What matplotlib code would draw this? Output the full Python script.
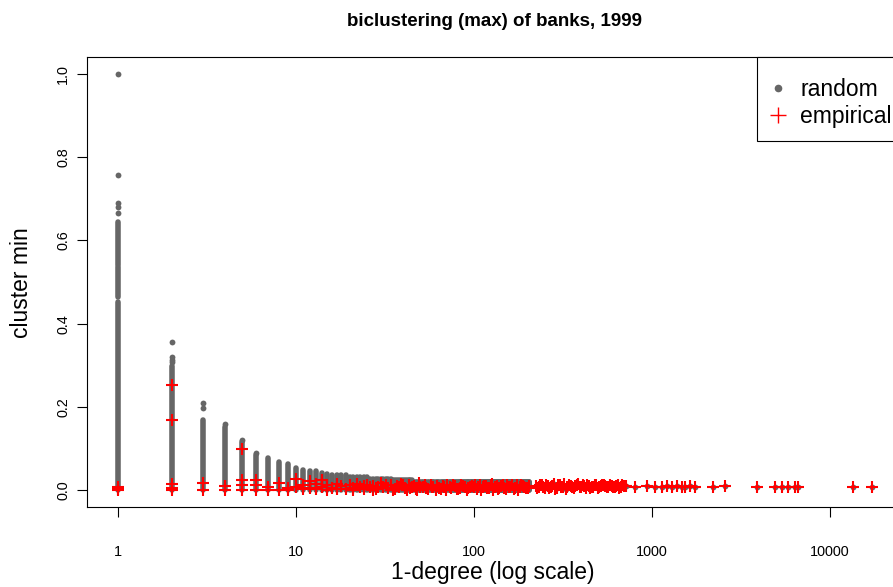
import numpy as np
import matplotlib.pyplot as plt
from matplotlib.lines import Line2D
from matplotlib.patches import Rectangle

plt.rcParams['font.family'] = ['Liberation Sans', 'DejaVu Sans']

# random model: dense columns of points (degree, lowest, highest value)
col_deg = [1, 1, 1, 2, 3, 4, 5, 6, 7, 8, 9, 10, 11, 12, 13, 14, 15, 16, 17, 18, 19]
col_lo = [0.0, 0.465, 0.542, 0.0, 0.0, 0.0, 0.0, 0.0, 0.0, 0.0, 0.0,
          0.0, 0.0, 0.0, 0.0, 0.0, 0.0, 0.0, 0.0, 0.0, 0.0]
col_hi = [0.453, 0.535, 0.643, 0.298, 0.170, 0.151, 0.115, 0.085, 0.077, 0.069, 0.063,
          0.054, 0.049, 0.047, 0.046, 0.042, 0.039, 0.037, 0.037, 0.037, 0.036]

# random model, higher degrees: runs of degrees that top out at the same value
run_start = [20, 26, 35, 46, 71]
run_end = [25, 34, 45, 70, 205]
run_top = [0.032, 0.028, 0.024, 0.021, 0.019]

# random model: isolated points above the columns
pt_deg = [1, 1, 1, 1, 1, 2, 2, 2, 2, 3, 3, 4, 5, 6]
pt_val = [1.0, 0.756, 0.69, 0.68, 0.665, 0.356, 0.319, 0.312, 0.307, 0.209, 0.197, 0.160, 0.120, 0.089]

# empirical values
emp_deg = [1, 1, 1,
           2, 2, 2, 2, 2,
           3, 3, 4, 4,
           5, 5, 5, 5,
           6, 6, 6,
           7, 7, 8, 8, 9, 9, 10, 10, 11, 11, 12, 12, 13, 13, 14, 14, 15, 15,
           16, 17, 17, 18, 19,
           20, 21, 22, 23, 24, 25, 26, 27, 28, 30, 31, 33, 34, 36, 37, 39, 41, 43,
           45, 47, 49, 52, 54, 57, 59, 62, 65, 68, 71, 74, 78, 81, 85, 89, 93, 97,
           100, 104, 108, 112, 117, 121, 126, 131, 137, 142, 148, 154, 160, 167,
           174, 181, 188, 196, 204,
           222, 231, 240, 250, 260, 270, 281, 292, 304, 316, 329, 342, 356, 370,
           385, 400, 416, 433, 450, 468, 487, 506, 527, 548, 570, 593, 617, 641,
           667, 693,
           714, 802, 937, 1040, 1134, 1209, 1290, 1376, 1468, 1532, 1635, 1745,
           2201, 2571, 3875, 4909, 5355, 5833, 6361, 6611, 13516, 17155]
emp_val = [0.0, 0.004, 0.008,
           0.254, 0.170, 0.016, 0.006, 0.0,
           0.018, 0.002, 0.010, 0.002,
           0.100, 0.026, 0.013, 0.002,
           0.026, 0.013, 0.002,
           0.008, 0.001, 0.018, 0.002, 0.006, 0.001, 0.027, 0.008, 0.013, 0.004,
           0.022, 0.006, 0.015, 0.003, 0.026, 0.009, 0.012, 0.002,
           0.006, 0.016, 0.003, 0.010, 0.004,
           0.012, 0.005, 0.016, 0.008, 0.003, 0.014, 0.007, 0.011, 0.004, 0.018,
           0.009, 0.006, 0.013, 0.003, 0.010, 0.015, 0.006, 0.012, 0.008, 0.004,
           0.017, 0.009, 0.005, 0.013, 0.007, 0.011, 0.004, 0.009, 0.014, 0.006,
           0.010, 0.003, 0.012, 0.008, 0.005, 0.011,
           0.009, 0.004, 0.013, 0.007, 0.010, 0.005, 0.015, 0.008, 0.003, 0.011,
           0.006, 0.012, 0.009, 0.004, 0.014, 0.007, 0.010, 0.005, 0.011,
           0.010, 0.007, 0.013, 0.005, 0.011, 0.008, 0.015, 0.006, 0.012, 0.009,
           0.004, 0.013, 0.008, 0.011, 0.016, 0.007, 0.010, 0.013, 0.006, 0.009,
           0.012, 0.008, 0.014, 0.010, 0.007, 0.011, 0.009, 0.013, 0.008, 0.010,
           0.011, 0.009, 0.010, 0.008, 0.009, 0.010, 0.009, 0.010, 0.009, 0.009,
           0.010, 0.009, 0.009, 0.010, 0.009, 0.009, 0.009, 0.009, 0.009, 0.009,
           0.009, 0.009]

# more empirical values inside the dense band (20 .. 700)
band_deg = [21, 24, 27, 29, 32, 35, 38, 40, 42, 44, 46, 48, 50, 53, 55, 58, 61, 64,
            67, 70, 73, 76, 80, 83, 87, 91, 95,
            102, 106, 110, 114, 119, 124, 128, 134, 139, 145, 151, 157, 163, 170,
            177, 184, 192, 200,
            226, 235, 245, 255, 265, 276, 287, 298, 310, 322, 335, 349, 363, 377,
            392, 408, 424, 441, 459, 477, 496, 516, 537, 559, 581, 605, 629, 654, 680]
band_val = [0.002, 0.010, 0.001, 0.007, 0.012, 0.002, 0.008, 0.013, 0.001, 0.006,
            0.010, 0.002, 0.007, 0.012, 0.003, 0.009, 0.001, 0.006, 0.011, 0.002,
            0.008, 0.013, 0.003, 0.006, 0.010, 0.002, 0.007,
            0.012, 0.007, 0.002, 0.011, 0.006, 0.013, 0.002, 0.010, 0.006, 0.014,
            0.003, 0.008, 0.012, 0.006, 0.002, 0.012, 0.008, 0.006,
            0.006, 0.012, 0.009, 0.014, 0.006, 0.011, 0.004, 0.013, 0.008, 0.015,
            0.007, 0.010, 0.005, 0.012, 0.009, 0.014, 0.006, 0.011, 0.008, 0.013,
            0.006, 0.010, 0.012, 0.007, 0.014, 0.009, 0.011, 0.006, 0.012]
assert len(emp_deg) == len(emp_val)
assert len(band_deg) == len(band_val)

xticks = [1, 10, 100, 1000, 10000]
yticks = [0.0, 0.2, 0.4, 0.6, 0.8, 1.0]

GRAY = '#666666'
RED = '#ff0000'

fig = plt.figure(figsize=(8.93, 5.87), dpi=100)
ax = fig.add_axes([87 / 893, 80 / 587, 812 / 893, 450 / 587])

# dense columns drawn as thick round-capped lines (overlapping dots)
ax.vlines(col_deg, col_lo, col_hi, colors=GRAY, lw=4, capstyle='round')
for s, e, top in zip(run_start, run_end, run_top):
    d = np.arange(s, e + 1)
    ax.vlines(d, 0.0, top, colors=GRAY, lw=4, capstyle='round')
ax.plot(pt_deg, pt_val, 'o', color=GRAY, ms=4.2, mew=0)
# random points hidden below the empirical crosses at high degree
hi = [(d, v) for d, v in zip(emp_deg, emp_val) if d > 205]
ax.plot([h[0] for h in hi], [h[1] for h in hi], 'o', color=GRAY, ms=4.2, mew=0)

ax.plot(emp_deg, emp_val, '+', color=RED, ms=9, mew=1.5)
ax.plot(band_deg, band_val, '+', color=RED, ms=9, mew=1.5)

ax.set_xscale('log')
ax.set_xlim(10 ** -0.174, 10 ** 4.388)
ax.set_ylim(-0.04, 1.04)
ax.set_xticks(xticks)
ax.set_xticklabels([str(t) for t in xticks])
ax.xaxis.set_minor_locator(plt.NullLocator())
ax.set_yticks(yticks)
ax.set_yticklabels(['%.1f' % t for t in yticks], rotation=90, va='center')
ax.tick_params(direction='out', length=7, width=0.8, labelsize=10.4, colors='black')
ax.tick_params(axis='x', pad=20)
ax.tick_params(axis='y', pad=5)
for sp in ax.spines.values():
    sp.set_linewidth(0.8)

fig.text(495 / 893, 1 - 22 / 587, 'biclustering (max) of banks, 1999',
         ha='center', va='center', fontsize=13.5, fontweight='bold')
fig.text(22 / 893, 1 - 283 / 587, 'cluster min', ha='center', va='center',
         rotation=90, fontsize=16.5)
fig.text(493 / 893, 1 - 572 / 587, '1-degree (log scale)', ha='center', va='center',
         fontsize=16.5)

# legend box (R style: square frame in the top right corner)
ax.add_patch(Rectangle((670 / 812, 366 / 450), 1 - 670 / 812 + 0.01, 84 / 450,
                       transform=ax.transAxes, fill=True, fc='white', ec='black',
                       lw=0.8, clip_on=False, zorder=4))
handles = [Line2D([], [], ls='none', marker='o', color=GRAY, ms=5.5, mew=0),
           Line2D([], [], ls='none', marker='+', color=RED, ms=11, mew=1)]
leg = ax.legend(handles, ['random', 'empirical'], loc='upper right',
                bbox_to_anchor=(1 + 2 / 812, 1 - 12 / 450), borderaxespad=0,
                fontsize=16.5, frameon=False, handlelength=1.0,
                handletextpad=0.46, borderpad=0.41, labelspacing=0.157)
leg.set_zorder(5)

fig.savefig('out.png', dpi=100)
